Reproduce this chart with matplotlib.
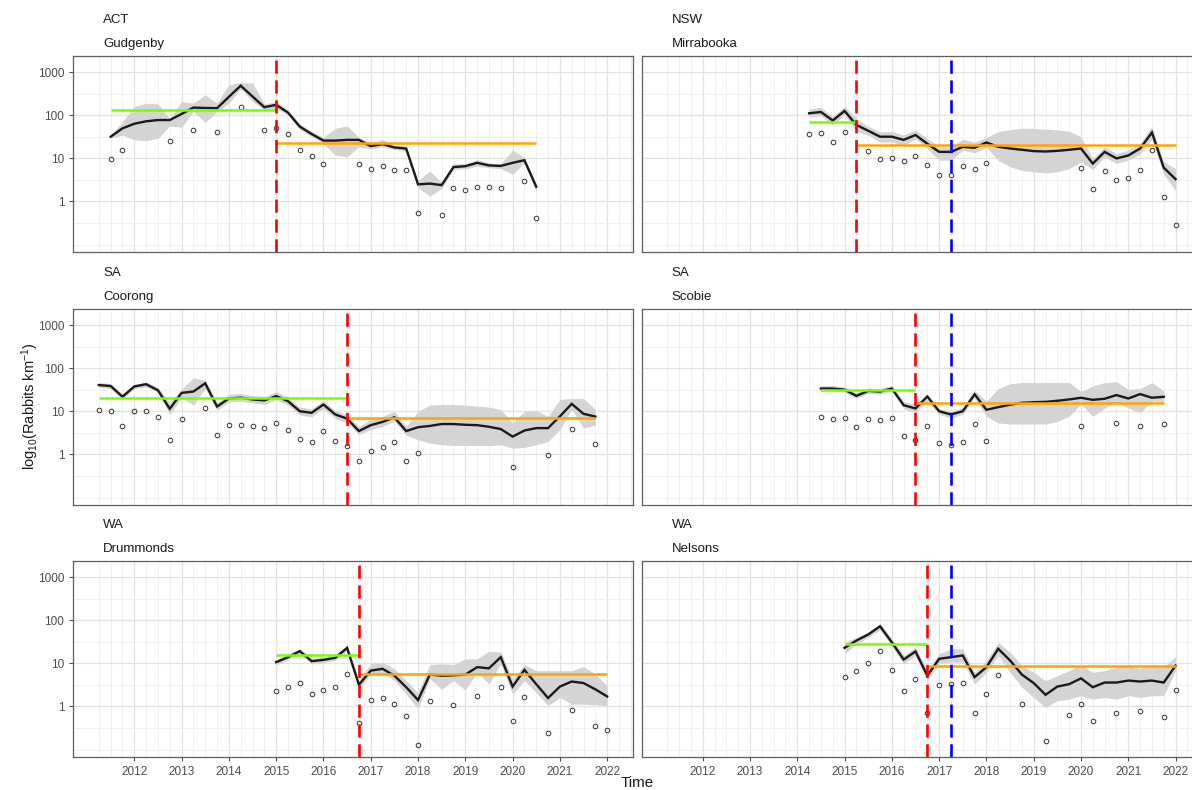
import numpy as np
import matplotlib
matplotlib.use("Agg")
import matplotlib.pyplot as plt
from matplotlib.ticker import FixedLocator, NullFormatter, FixedFormatter

plt.rcParams['font.family'] = ['Liberation Sans', 'DejaVu Sans']
plt.rcParams['mathtext.default'] = 'regular'
plt.rcParams['lines.scale_dashes'] = False

# ---------------- Gudgenby (ACT) ----------------
gud_start = 2011.5
gud_est = [32, 50, 64, 73, 78, 78, 108, 152, 149, 147, 270, 490, 275, 155, 176, 116, 55, 37, 26, 26,
           27, 27, 19.3, 21.5, 18, 17, 2.5, 2.6, 2.4, 6.3, 6.6, 7.9, 6.9, 6.7, 7.9, 9.1, 2.2]
gud_lo = [29, 35, 27, 26, 29, 57, 53, 123, 68, 123, 192, 408, 210, 134, 147, 103, 47, 32, 22, 11.9,
          10.9, 18.6, 16.7, 18.6, 16, 15, 2.1, 1.33, 2.0, 5.5, 5.7, 6.6, 6.1, 5.8, 4.3, 7.9, 1.65]
gud_hi = [35, 72, 161, 192, 185, 86, 210, 192, 301, 192, 516, 585, 564, 185, 210, 134, 63, 42, 31, 50,
          57, 31, 22, 28, 20, 19, 3.1, 5.1, 2.8, 7.6, 7.6, 9.4, 7.9, 7.6, 15.6, 10.5, 2.6]
gud_obs_t = [2011.5, 2011.75, 2012.75, 2013.25, 2013.75, 2014.25, 2014.75, 2015.0, 2015.25, 2015.5,
             2015.75, 2016.0, 2016.75, 2017.0, 2017.25, 2017.5, 2017.75, 2018.0, 2018.5, 2018.75,
             2019.0, 2019.25, 2019.5, 2019.75, 2020.25, 2020.5]
gud_obs = [9.6, 15.6, 25, 45, 41, 158, 45, 52, 36, 15.6, 11.3, 7.5, 7.5, 5.7, 6.6, 5.4, 5.3, 0.53,
           0.49, 2.1, 1.84, 2.2, 2.2, 2.1, 3.0, 0.42]
gud_pre, gud_post = 137, 23
gud_release, gud_second = 2015.0, None

# ---------------- Mirrabooka (NSW) ----------------
mir_start = 2014.25
mir_est = [112, 120, 76, 127, 60, 44, 32, 32, 27, 35, 22, 14.2, 14.2, 18.6, 17.7, 23.5, 18.6, 17,
           15.9, 14.8, 14.5, 15, 15.9, 17, 7.6, 14.2, 10, 11.7, 17, 40, 6.1, 3.3]
mir_lo = [94, 97, 60, 103, 42, 35, 24, 24, 20, 28, 17, 9.1, 9.1, 15.6, 13.5, 18, 9.1, 6.4, 5.3, 4.9,
          4.6, 4.9, 5.8, 8.3, 5.5, 10.9, 7.6, 9.1, 12.6, 28, 4.3, 1.8]
mir_hi = [139, 155, 94, 161, 86, 55, 42, 42, 35, 46, 29, 18.6, 18.6, 28, 24, 31, 42, 47, 50, 50,
          48, 46, 43, 32, 10, 18.6, 13, 15.6, 22, 57, 8.3, 5.8]
mir_obs_t = [2014.25, 2014.5, 2014.75, 2015.0, 2015.5, 2015.75, 2016.0, 2016.25, 2016.5, 2016.75,
             2017.0, 2017.25, 2017.5, 2017.75, 2018.0, 2020.0, 2020.25, 2020.5, 2020.75, 2021.0,
             2021.25, 2021.5, 2021.75, 2022.0]
mir_obs = [36, 40, 23.5, 42, 14.8, 9.8, 10.5, 8.6, 11.7, 7.2, 4.1, 4.1, 6.7, 5.6, 8.0, 6.1, 2.0,
           5.1, 3.2, 3.6, 5.5, 15.9, 1.29, 0.28]
mir_pre, mir_post = 69, 20.8
mir_release, mir_second = 2015.25, 2017.25

# ---------------- Coorong (SA) ----------------
coo_start = 2011.25
coo_est = [41, 39, 22, 38, 43, 31, 11.5, 27, 29, 45, 13, 20, 20.8, 19, 18, 22.7, 17.3, 10.1, 9.3,
           14.5, 8.5, 6.8, 3.5, 4.8, 5.7, 7.3, 3.5, 4.3, 4.6, 5.1, 5.1, 4.9, 4.8, 4.4, 3.9, 2.6, 3.6,
           4.1, 4.1, 7.7, 15, 8.8, 7.6]
coo_lo = [36, 34, 19, 34, 37, 28, 8.5, 20.8, 14, 34, 10.5, 16.7, 17.3, 15.8, 14.5, 18.6, 14, 8.2,
          7.5, 11.7, 6.8, 5.4, 2.9, 3.8, 4.5, 5.9, 2.8, 2.2, 1.84, 1.68, 1.62, 1.62, 1.62, 1.6, 1.68,
          1.4, 1.46, 1.68, 2.0, 3.8, 11.1, 4.1, 4.8]
coo_hi = [47, 44, 25, 43, 48, 36, 15.8, 32.5, 61, 53, 15.8, 25, 26, 23.5, 22.3, 29, 21.5, 12.6,
          11.5, 18, 10.5, 8.5, 4.5, 6.5, 7.7, 10.1, 4.5, 10.1, 14, 14.5, 14.5, 14, 13.3, 12.6, 11.1,
          5.4, 10.1, 10.5, 7.7, 19, 20, 20, 11.1]
coo_obs_t = [2011.25, 2011.5, 2011.75, 2012.0, 2012.25, 2012.5, 2012.75, 2013.0, 2013.5, 2013.75,
             2014.0, 2014.25, 2014.5, 2014.75, 2015.0, 2015.25, 2015.5, 2015.75, 2016.0, 2016.25,
             2016.5, 2016.75, 2017.0, 2017.25, 2017.5, 2017.75, 2018.0, 2020.0, 2020.75, 2021.25,
             2021.75]
coo_obs = [10.9, 10.1, 4.6, 10.3, 10.5, 7.6, 2.2, 6.6, 12.1, 2.8, 4.8, 4.9, 4.5, 4.1, 5.4, 3.8, 2.3,
           2.0, 3.6, 2.1, 1.6, 0.69, 1.22, 1.46, 1.94, 0.72, 1.11, 0.51, 0.95, 4.0, 1.78]
coo_pre, coo_post = 20, 7.1
coo_release, coo_second = 2016.5, None

# ---------------- Scobie (SA) ----------------
sco_start = 2014.5
sco_est = [34, 34, 32, 23, 30, 29, 34, 14, 11.7, 22.3, 10.1, 8.5, 10.1, 25, 10.9, 12.6, 14.3, 15.9,
           16.4, 16.7, 17.7, 19, 20.8, 18.6, 19.7, 24, 20, 25.3, 20.8, 21.9]
sco_lo = [30, 30, 28, 20, 26, 25, 30, 11.5, 9.3, 17.3, 8.5, 7.1, 8.5, 20.8, 7.7, 5.4, 5.1, 5.1,
          5.1, 5.1, 5.9, 7.7, 15, 7.7, 12.1, 15.9, 12.1, 9.3, 17.3, 17.3]
sco_hi = [40, 40, 37, 27, 35, 34, 40, 17, 14.5, 25, 11.7, 10.1, 12.1, 31, 17.3, 34, 44, 47, 47, 47,
          47, 47, 29, 39, 47, 49, 32.5, 34, 47, 30]
sco_obs_t = [2014.5, 2014.75, 2015.0, 2015.25, 2015.5, 2015.75, 2016.0, 2016.25, 2016.5, 2016.75,
             2017.0, 2017.25, 2017.5, 2017.75, 2018.0, 2020.0, 2020.75, 2021.25, 2021.75]
sco_obs = [7.5, 6.6, 7.1, 4.4, 6.7, 6.2, 6.9, 2.7, 2.2, 4.7, 1.84, 1.62, 1.94, 5.2, 2.05, 4.7, 5.5,
           4.6, 5.1]
sco_pre, sco_post = 31, 15.3
sco_release, sco_second = 2016.5, 2017.25

# ---------------- Drummonds (WA) ----------------
dru_start = 2015.0
dru_est = [10.7, 14, 19.3, 11.3, 12.1, 13.5, 23, 3.2, 6.8, 7.5, 5.2, 2.8, 1.41, 5.5, 5.2, 5.3, 5.5,
           8.2, 7.7, 14, 2.9, 7.1, 3.3, 1.57, 2.9, 3.8, 3.5, 2.5, 1.71]
dru_lo = [9.3, 12.1, 16.7, 9.8, 10.5, 11.7, 20, 2.5, 5.7, 6.2, 4.0, 1.94, 0.87, 4.4, 2.5, 4.0, 2.4,
          6.2, 3.3, 9.8, 1.94, 4.0, 2.1, 1.04, 1.62, 1.13, 1.13, 1.09, 1.04]
dru_hi = [12.3, 16.2, 22.3, 13, 14, 15.6, 26.5, 4.0, 10.1, 10.7, 7.5, 4.0, 2.1, 9.4, 9.8, 9.4, 12.8,
          12.8, 19.3, 18.3, 4.4, 9.4, 6.8, 6.8, 6.8, 6.8, 8.5, 5.7, 3.0]
dru_obs_t = [2015.0, 2015.25, 2015.5, 2015.75, 2016.0, 2016.25, 2016.5, 2016.75, 2017.0, 2017.25,
             2017.5, 2017.75, 2018.0, 2018.25, 2018.75, 2019.25, 2019.75, 2020.0, 2020.25, 2020.75,
             2021.25, 2021.75, 2022.0]
dru_obs = [2.3, 2.9, 3.6, 2.0, 2.4, 2.8, 5.6, 0.41, 1.43, 1.6, 1.13, 0.59, 0.13, 1.33, 1.07, 1.78,
           2.9, 0.47, 1.62, 0.24, 0.82, 0.35, 0.28]
dru_pre, dru_post = 15.6, 5.7
dru_release, dru_second = 2016.75, None

# ---------------- Nelsons (WA) ----------------
nel_start = 2015.0
nel_est = [23, 34, 47, 73, 31, 12.3, 19, 5.2, 12.8, 14, 15.3, 4.8, 8.2, 21.9, 11.7, 5.5, 3.5, 1.87,
           2.9, 3.3, 4.5, 2.8, 3.6, 3.6, 4.0, 3.8, 4.0, 3.6, 8.9]
nel_lo = [16.7, 28.7, 40, 61, 24.8, 9.8, 15.3, 4.0, 10.1, 10.7, 10.7, 3.3, 6.2, 15.3, 6.2, 2.8, 1.62,
          0.95, 1.36, 1.48, 1.78, 1.48, 1.62, 1.48, 1.78, 1.62, 1.78, 1.78, 6.8]
nel_hi = [31, 40, 54, 84, 37.5, 15.3, 24, 6.8, 16.7, 21.9, 21.9, 6.2, 11.7, 31, 18.3, 8.9, 6.2, 4.0,
          5.2, 6.8, 9.4, 6.2, 6.8, 8.2, 8.9, 7.5, 9.4, 8.2, 14.5]
nel_obs_t = [2015.0, 2015.25, 2015.5, 2015.75, 2016.0, 2016.25, 2016.5, 2016.75, 2017.0, 2017.25,
             2017.5, 2017.75, 2018.0, 2018.25, 2018.75, 2019.25, 2019.75, 2020.0, 2020.25, 2020.75,
             2021.25, 2021.75, 2022.0]
nel_obs = [4.9, 6.8, 10, 19, 7.2, 2.3, 4.3, 0.69, 3.2, 3.3, 3.6, 0.69, 1.91, 5.4, 1.13, 0.16, 0.63,
           1.13, 0.47, 0.69, 0.79, 0.57, 2.4]
nel_pre, nel_post = 27.7, 8.8
nel_release, nel_second = 2016.75, 2017.25

# panel order: (state, site, data...)
panels = [
    ("ACT", "Gudgenby", gud_start, gud_est, gud_lo, gud_hi, gud_obs_t, gud_obs, gud_pre, gud_post, gud_release, gud_second),
    ("NSW", "Mirrabooka", mir_start, mir_est, mir_lo, mir_hi, mir_obs_t, mir_obs, mir_pre, mir_post, mir_release, mir_second),
    ("SA", "Coorong", coo_start, coo_est, coo_lo, coo_hi, coo_obs_t, coo_obs, coo_pre, coo_post, coo_release, coo_second),
    ("SA", "Scobie", sco_start, sco_est, sco_lo, sco_hi, sco_obs_t, sco_obs, sco_pre, sco_post, sco_release, sco_second),
    ("WA", "Drummonds", dru_start, dru_est, dru_lo, dru_hi, dru_obs_t, dru_obs, dru_pre, dru_post, dru_release, dru_second),
    ("WA", "Nelsons", nel_start, nel_est, nel_lo, nel_hi, nel_obs_t, nel_obs, nel_pre, nel_post, nel_release, nel_second),
]

year_ticks = list(range(2012, 2023))
quarter_grid = [y + q for y in range(2011, 2023) for q in (0.25, 0.5, 0.75)] + [2022.25]
y_ticks = [1, 10, 100, 1000]
y_minor = [0.1, 0.316, 3.16, 31.6, 316]

W, H = 1192, 790
fig = plt.figure(figsize=(W / 100, H / 100), dpi=100)

col_left = [73.3, 641.7]
panel_w = 559.4
row_top = [56, 309, 561]
panel_h = 196

for i, (state, site, start, est, lo, hi, obs_t, obs, pre, post, rel, sec) in enumerate(panels):
    r, c = divmod(i, 2)
    ax = fig.add_axes([col_left[c] / W, 1 - (row_top[r] + panel_h) / H, panel_w / W, panel_h / H])
    ax.set_yscale('log')
    ax.set_xlim(2010.71, 2022.54)
    ax.set_ylim(0.067, 2400)

    ax.xaxis.set_major_locator(FixedLocator(year_ticks))
    ax.xaxis.set_minor_locator(FixedLocator(quarter_grid))
    ax.yaxis.set_major_locator(FixedLocator(y_ticks))
    ax.yaxis.set_major_formatter(FixedFormatter([str(v) for v in y_ticks]))
    ax.yaxis.set_minor_locator(FixedLocator(y_minor))
    ax.yaxis.set_minor_formatter(NullFormatter())
    ax.xaxis.set_minor_formatter(NullFormatter())
    ax.set_axisbelow(True)
    ax.grid(which='major', color='#e2e2e2', lw=0.9)
    ax.grid(which='minor', color='#efefef', lw=0.6)
    for sp in ax.spines.values():
        sp.set_color('#5e5e5e')
        sp.set_linewidth(0.9)
    ax.tick_params(which='minor', length=0)
    ax.tick_params(which='major', labelsize=8.5, colors='#4d4d4d', length=3, width=0.8)
    if r != 2:
        ax.tick_params(axis='x', which='major', length=0, labelbottom=False)
    if c != 0:
        ax.tick_params(axis='y', which='major', length=0, labelleft=False)

    t = start + 0.25 * np.arange(len(est))
    ax.fill_between(t, lo, hi, color='#d4d4d4', lw=0, zorder=2)
    ax.plot(t, est, color='#1a1a1a', lw=1.7, zorder=3, solid_joinstyle='miter')
    ax.plot(obs_t, obs, 'o', mfc='none', mec='#333333', mew=0.7, ms=3.3, zorder=4)
    ax.plot([start, rel], [pre, pre], color='#7CFC00', lw=1.8, zorder=5, solid_capstyle='butt')
    ax.plot([rel, t[-1]], [post, post], color='#FFA500', lw=1.8, zorder=5, solid_capstyle='butt')
    ax.axvline(rel, color='#FF0000', lw=1.9, linestyle=(0, (9.5, 4.8)), zorder=6)
    if sec is not None:
        ax.axvline(sec, color='#0000FF', lw=1.9, linestyle=(0, (9.5, 4.8)), zorder=6)

    ax.text(30 / panel_w, 1 + 12 / panel_h, site, transform=ax.transAxes, ha='left', va='center',
            fontsize=9.5, color='#1a1a1a')
    ax.text(30 / panel_w, 1 + 36 / panel_h, state, transform=ax.transAxes, ha='left', va='center',
            fontsize=9.5, color='#1a1a1a')

fig.text(30 / W, 1 - 406 / H, r'log$_{10}$(Rabbits km$^{-1}$)', rotation=90, ha='center', va='center',
         fontsize=10.5, color='#1a1a1a')
fig.text(637 / W, 1 - 783 / H, 'Time', ha='center', va='center', fontsize=11, color='#1a1a1a')

fig.savefig('out.png', dpi=100, facecolor='white')
